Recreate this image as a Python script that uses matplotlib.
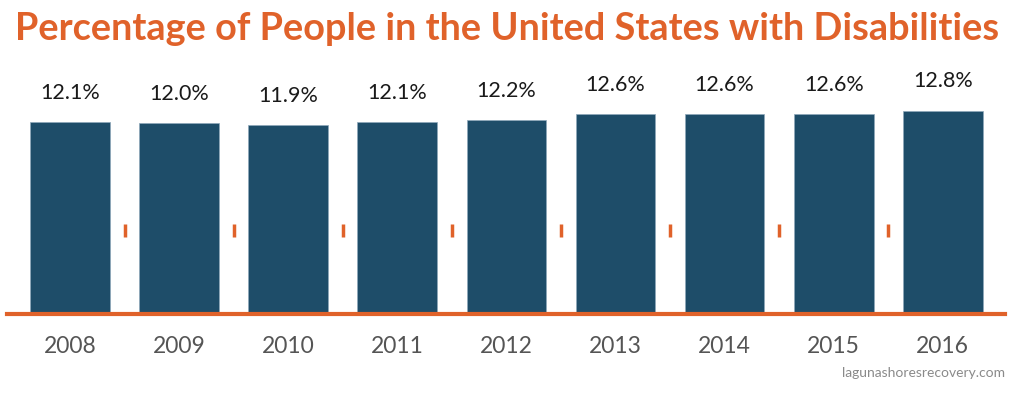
import numpy as np
import matplotlib
matplotlib.use('Agg')
import matplotlib.pyplot as plt

# data
years = ['2008', '2009', '2010', '2011', '2012', '2013', '2014', '2015', '2016']
pct = [12.1, 12.0, 11.9, 12.1, 12.2, 12.6, 12.6, 12.6, 12.8]

bar_color = '#1e4d69'
orange = '#e0622a'

plt.rcParams['font.family'] = ['Lato', 'DejaVu Sans']

fig = plt.figure(figsize=(10.24, 3.96), dpi=100)
# axes fill the width, bottom sits on the orange baseline
ax = fig.add_axes([0, 0.2083, 1, 0.7917])
x = np.arange(len(years))
ax.set_xlim(-0.6416, 8.744)
ax.set_ylim(0, 19.78)
ax.axis('off')

ax.bar(x, pct, width=0.73, color=bar_color, edgecolor='#8fa9bb', linewidth=0.5, zorder=2)

# orange baseline
ax.axhline(0, xmin=7 / 1024, xmax=1005 / 1024, color=orange, lw=3, zorder=3, clip_on=False)

# small orange marks between bars
ax.vlines(x[:-1] + 0.5, 4.83, 5.65, color=orange, lw=2.5, zorder=3)

# value labels
for xi, v in zip(x, pct):
    ax.annotate(f'{v:.1f}%', (xi, v), xytext=(0, 21), textcoords='offset points',
                ha='center', va='center', fontsize=15.5, color='#1a1a1a')

# year labels
for xi, y in zip(x, years):
    ax.annotate(y, (xi, 0), xytext=(0, -24), textcoords='offset points',
                ha='center', va='center', fontsize=16.5, color='#555555', annotation_clip=False)

fig.text(0.4956, 1 - 29 / 396, 'Percentage of People in the United States with Disabilities',
         ha='center', va='center', fontsize=27.3, fontweight='bold', color=orange)

fig.text(1005 / 1024, 1 - 373 / 396, 'lagunashoresrecovery.com',
         ha='right', va='center', fontsize=10, color='#8a8a8a')

fig.savefig('out.png', dpi=100, facecolor='white')
